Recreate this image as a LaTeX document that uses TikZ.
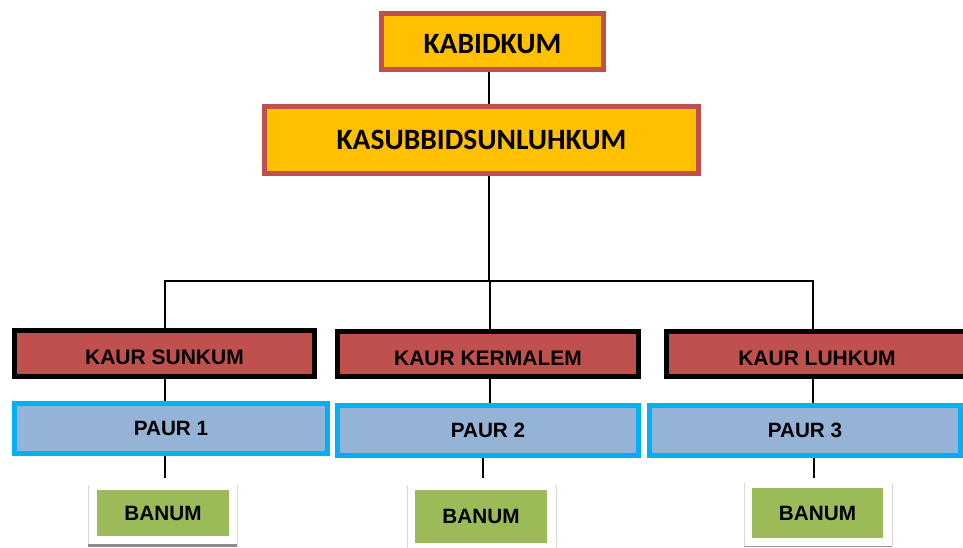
\documentclass[tikz,border=0pt]{standalone}
\usepackage{fontspec}
\setmainfont{Liberation Sans}
\newfontfamily\calib{Carlito}
\usetikzlibrary{backgrounds}
\definecolor{redb}{HTML}{C0504D}
\definecolor{gold}{HTML}{FFC000}
\definecolor{cyanb}{HTML}{00B0F0}
\definecolor{paurf}{HTML}{95B3D7}
\definecolor{greenf}{HTML}{9BBB59}
\tikzset{
  topbox/.style={draw=redb, fill=gold, line width=5pt, inner sep=0pt, outer sep=0pt,
    font=\calib\bfseries\fontsize{29.5}{31}\selectfont},
  kaurbox/.style={draw=black, fill=redb, line width=5pt, inner sep=0pt, outer sep=0pt,
    text height=22pt, text depth=0pt,
    font=\bfseries\fontsize{21}{23}\selectfont},
  paurbox/.style={draw=cyanb, fill=paurf, line width=5pt, inner sep=0pt, outer sep=0pt,
    font=\bfseries\fontsize{20.7}{23}\selectfont},
  banbox/.style={fill=greenf, inner sep=0pt, outer sep=0pt,
    font=\bfseries\fontsize{20.7}{23}\selectfont},
  conn/.style={draw=black, line width=1.5pt},
  frameside/.style={draw=black!15, line width=1pt},
  framebot/.style={draw=black!45, line width=3pt}
}
\begin{document}
\begin{tikzpicture}[x=1pt,y=-1pt]
\useasboundingbox (0,0) rectangle (963,547);
\clip (0,0) rectangle (963,547);
% frames around BANUM
\draw[frameside] (88,485) -- (88,546) (237,485) -- (237,546);
\draw[framebot] (88,545.5) -- (237,545.5);
\draw[frameside] (407,485) -- (407,548) (556,485) -- (556,548);
\draw[frameside] (744,483) -- (744,546) (892,483) -- (892,546);
\draw[draw=black!40, line width=1pt] (744,546) -- (892,546);
% nodes
\node[topbox, text height=24pt, text depth=0pt, minimum width=222pt, minimum height=56pt] (kab) at (492.5,41.5) {KABIDKUM};
\node[topbox, minimum width=434pt, minimum height=67pt] (kas) at (481.5,140) {KASUBBIDSUNLUHKUM};
\node[kaurbox, minimum width=300pt, minimum height=46pt] (k1) at (164.5,353.5) {KAUR SUNKUM};
\node[kaurbox, minimum width=301pt, minimum height=45pt] (k2) at (488,354) {KAUR KERMALEM};
\node[kaurbox, minimum width=301pt, minimum height=45pt] (k3) at (817,354) {KAUR LUHKUM};
\node[paurbox, minimum width=313pt, minimum height=50pt] (p1) at (171,428.5) {PAUR 1};
\node[paurbox, minimum width=301pt, minimum height=50pt] (p2) at (488,430.5) {PAUR 2};
\node[paurbox, minimum width=311pt, minimum height=50pt] (p3) at (805,430.5) {PAUR 3};
\node[banbox, minimum width=132pt, minimum height=46pt] (b1) at (163,513) {BANUM};
\node[banbox, minimum width=132pt, minimum height=53pt] (b2) at (481,516.5) {BANUM};
\node[banbox, minimum width=131pt, minimum height=50pt] (b3) at (817.5,513) {BANUM};
% coordinates for connectors
\coordinate (tx) at (489,0);
\coordinate (bus) at (0,281);
\coordinate (xa) at (165,0);
\coordinate (xb) at (490,0);
\coordinate (xc) at (813,0);
\coordinate (pb1) at (165,478);
\coordinate (pb2) at (483,478);
\coordinate (pb3) at (814,478);
\begin{scope}[on background layer]
\fill[white] (0,0) rectangle (963,547);
\draw[conn] (kab.south -| tx) -- (kas.north -| tx);
\draw[conn] (kas.south -| tx) -- (bus -| tx);
\draw[conn] (k1.north -| xa) |- (bus -| xc) -- (k3.north -| xc);
\draw[conn] (bus -| xb) -- (k2.north -| xb);
\draw[conn] (k1.south -| xa) -- (p1.north -| xa);
\draw[conn] (k2.south -| xb) -- (p2.north -| xb);
\draw[conn] (k3.south -| xc) -- (p3.north -| xc);
\draw[conn] (p1.south -| pb1) -- (pb1);
\draw[conn] (p2.south -| pb2) -- (pb2);
\draw[conn] (p3.south -| pb3) -- (pb3);
\end{scope}
\end{tikzpicture}
\end{document}
